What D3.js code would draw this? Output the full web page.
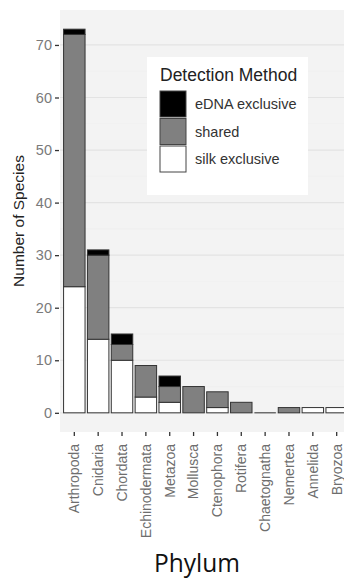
<!DOCTYPE html>
<html><head><meta charset="utf-8">
<script src="https://cdn.jsdelivr.net/npm/d3@7"></script>
<style>body{margin:0;background:#fff;} svg{display:block;}</style>
</head><body>
<svg id="c" width="344" height="580"></svg>
<script>
const phyla = ["Arthropoda","Cnidaria","Chordata","Echinodermata","Metazoa","Mollusca","Ctenophora","Rotifera","Chaetognatha","Nemertea","Annelida","Bryozoa"];
const silkExclusive = [24,14,10,3,2,0,1,0,0,0,1,1];
const shared = [48,16,3,6,3,5,3,2,0,1,0,0];
const eDNAExclusive = [1,1,2,0,2,0,0,0,0,0,0,0];
const methods = ["eDNA exclusive","shared","silk exclusive"];
const methodColors = ["#000000","#808080","#ffffff"];
const yTicks = [0,10,20,30,40,50,60,70];

const FONT = "Liberation Sans, Arial, sans-serif";
const svg = d3.select("#c");
const panel = {left:60, top:10, right:351, bottom:432};
const n = phyla.length;
const step = (panel.right-panel.left)/(n-1+1.2);
const x = d3.scaleBand().domain(phyla)
  .range([panel.left + 0.1*step, panel.left + 0.1*step + n*step])
  .paddingInner(0.1).paddingOuter(0.05);
const maxTotal = d3.max(phyla.map((p,i)=>silkExclusive[i]+shared[i]+eDNAExclusive[i]));
const y = d3.scaleLinear().domain([-maxTotal*0.05, maxTotal*1.05]).range([panel.bottom, panel.top]);

svg.append("defs").append("clipPath").attr("id","pc").append("rect")
  .attr("x",panel.left).attr("y",panel.top).attr("width",344-panel.left).attr("height",panel.bottom-panel.top);

svg.append("rect").attr("x",panel.left).attr("y",panel.top)
  .attr("width",panel.right-panel.left).attr("height",panel.bottom-panel.top).attr("fill","#f3f3f3");

const g = svg.append("g").attr("clip-path","url(#pc)");
yTicks.slice(0,-1).forEach(t=>{
  g.append("line").attr("x1",panel.left).attr("x2",panel.right)
   .attr("y1",y(t+5)).attr("y2",y(t+5)).attr("stroke","#efefef").attr("stroke-width",0.6);
});
yTicks.forEach(t=>{
  g.append("line").attr("x1",panel.left).attr("x2",panel.right)
   .attr("y1",y(t)).attr("y2",y(t)).attr("stroke","#e3e3e3").attr("stroke-width",1.2);
});

const rows = phyla.map((p,i)=>({phylum:p, "silk exclusive":silkExclusive[i], "shared":shared[i], "eDNA exclusive":eDNAExclusive[i]}));
const stack = d3.stack().keys(["silk exclusive","shared","eDNA exclusive"])(rows);
const color = d3.scaleOrdinal().domain(methods).range(methodColors);
stack.forEach(layer=>{
  g.selectAll(null).data(layer.filter(d=>d[1]>d[0])).enter().append("rect")
    .attr("x",d=>x(d.data.phylum)).attr("width",x.bandwidth())
    .attr("y",d=>y(d[1])).attr("height",d=>y(d[0])-y(d[1]))
    .attr("fill",color(layer.key)).attr("stroke","#333").attr("stroke-width",1);
});
rows.filter((r,i)=>silkExclusive[i]+shared[i]+eDNAExclusive[i]===0).forEach(r=>{
  g.append("line").attr("x1",x(r.phylum)).attr("x2",x(r.phylum)+x.bandwidth())
   .attr("y1",y(0)).attr("y2",y(0)).attr("stroke","#333").attr("stroke-width",1);
});

const yAxis = d3.axisLeft(y).tickValues(yTicks).tickSize(4).tickPadding(3);
const ya = svg.append("g").attr("transform",`translate(${panel.left-1},0)`).call(yAxis);
ya.select(".domain").remove();
ya.selectAll(".tick line").attr("stroke","#333").attr("stroke-width",1.3);
ya.selectAll(".tick text").style("fill","#7a7a7a").style("font-family",FONT).style("font-size","14.5px");

const xAxis = d3.axisBottom(x).tickSize(4).tickPadding(3);
const xa = svg.append("g").attr("transform",`translate(0,${panel.bottom})`).call(xAxis);
xa.select(".domain").remove();
xa.selectAll(".tick line").attr("stroke","#333").attr("stroke-width",1.3);
xa.selectAll(".tick text").style("fill","#6e6e6e").style("font-family",FONT).style("font-size","14px")
  .attr("transform","rotate(-90)").attr("text-anchor","end").attr("dy","0.35em").attr("x",-12).attr("y",0);

svg.append("text").attr("transform","translate(24,221) rotate(-90)").attr("text-anchor","middle")
  .style("font-family",FONT).style("font-size","15.5px").style("fill","#222")
  .text("Number of Species");
svg.append("text").attr("x",197).attr("y",572).attr("text-anchor","middle")
  .attr("textLength",86).attr("lengthAdjust","spacingAndGlyphs")
  .style("font-family","Open Sans, sans-serif").style("font-size","25px").style("fill","#111")
  .text("Phylum");

const lg = svg.append("g");
lg.append("rect").attr("x",147).attr("y",57).attr("width",161).attr("height",138).attr("fill","#fff");
lg.append("text").attr("x",160).attr("y",81).style("font-family",FONT)
  .style("font-size","17.5px").style("fill","#222").text("Detection Method");
methods.forEach((m,i)=>{
  const yy = 91 + i*27.5;
  lg.append("rect").attr("x",160).attr("y",yy).attr("width",26).attr("height",26)
    .attr("fill",color(m)).attr("stroke","#444").attr("stroke-width",1);
  lg.append("text").attr("x",195).attr("y",yy+18).style("font-family",FONT)
    .style("font-size","14.5px").style("fill","#333").text(m);
});
</script>
</body></html>
